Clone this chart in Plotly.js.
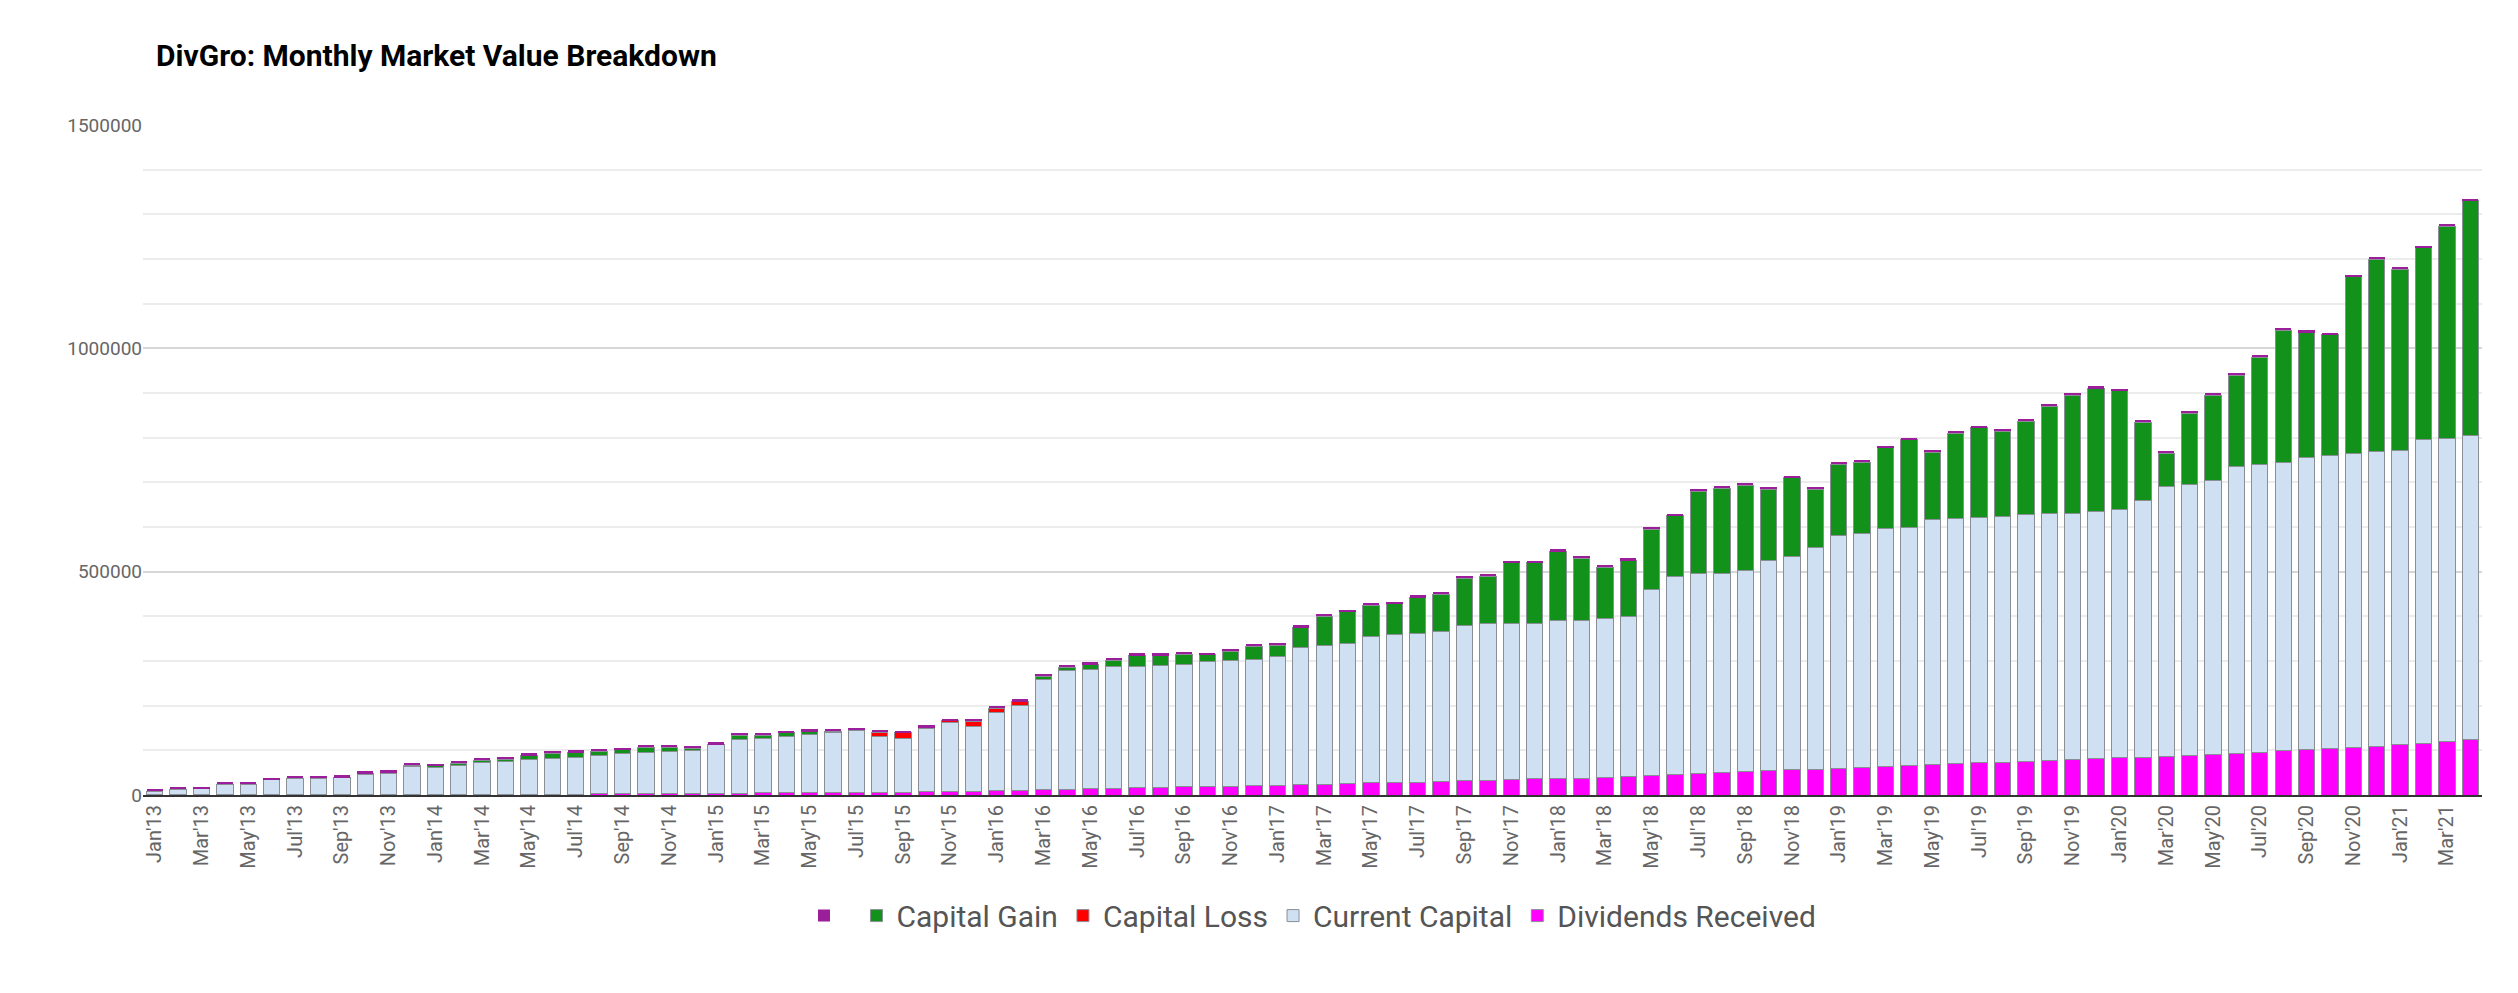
<!DOCTYPE html>
<html>
<head>
<meta charset="utf-8">
<script src="https://cdn.plot.ly/plotly-3.0.1.min.js"></script>
<style>html,body{margin:0;padding:0;background:#fff}#chart{width:2518px;height:993px}</style>
</head>
<body>
<div id="chart"></div>
<script>
// months Jan'13 .. Apr'21
const monthNames = ['Jan','Feb','Mar','Apr','May','Jun','Jul','Aug','Sep','Oct','Nov','Dec'];
const months = [];
for (let y = 13; y <= 21; y++) {
    for (let m = 0; m < 12; m++) {
        if (y === 21 && m > 3) break;
        months.push(monthNames[m] + "'" + y);
    }
}

// top of the light blue part (capital incl. dividends)
const capitalTop = [
    8000,13000,14000,24000,24000,34000,36000,36000,39000,46000,48000,63000,
    62000,66000,73000,76000,80000,82000,85000,88000,92000,95000,97000,100000,
    112000,125000,127000,132000,135000,140000,145000,132000,127000,148000,163000,153000,
    185000,200000,258000,278000,282000,287000,287000,290000,293000,298000,302000,303000,
    310000,330000,335000,340000,355000,360000,362000,365000,380000,385000,385000,385000,
    390000,390000,395000,400000,460000,490000,495000,497000,502000,525000,535000,555000,
    580000,585000,597000,600000,617000,620000,622000,624000,627000,630000,630000,635000,
    640000,660000,690000,695000,705000,735000,740000,745000,755000,760000,765000,768000,
    772000,795000,798000,805000
];
const dividends = [
    500,500,500,500,500,500,500,500,500,500,500,500,
    500,500,500,1000,1500,2000,2000,2500,2500,3000,3000,3500,
    3500,4000,4500,5000,5000,5500,6000,6500,6500,7000,7500,8000,
    9000,10000,12000,13000,14000,15000,16000,17000,18000,19000,20000,21000,
    22000,23000,24000,25000,27000,28000,29000,30000,32000,33000,34000,36000,
    37000,38000,40000,42000,44000,46000,48000,50000,52000,54000,56000,58000,
    60000,62000,64000,66000,68000,70000,72000,73000,75000,77000,79000,81000,
    83000,85000,87000,89000,91000,94000,96000,99000,101000,103000,106000,109000,
    112000,115000,119000,125000
];
const capitalGain = [
    0,0,0,0,0,0,2000,2000,0,2000,2000,4000,
    3000,5000,5000,4000,8000,12000,10000,10000,9000,12000,10000,5000,
    1000,9000,7000,7000,7000,3000,1000,0,0,0,0,0,
    0,0,8000,8000,10000,15000,25000,22000,22000,16000,20000,30000,
    25000,45000,65000,70000,70000,68000,80000,85000,105000,105000,135000,135000,
    155000,140000,115000,125000,135000,135000,185000,190000,192000,160000,175000,130000,
    160000,160000,180000,195000,150000,190000,200000,190000,210000,240000,265000,275000,
    265000,175000,75000,160000,190000,205000,240000,295000,280000,270000,395000,432000,
    405000,430000,475000,525000
];
const capitalLoss = [
    0,0,0,0,0,0,0,0,0,0,0,0,
    0,0,0,0,0,0,0,0,0,0,0,0,
    0,0,0,0,0,0,0,8000,12000,3000,3000,12000,
    9000,9000,0,0,0,0,0,0,0,0,0,0
].concat(new Array(52).fill(0));
const topCap = new Array(months.length).fill(5000);

const currentCapital = capitalTop.map((v, i) => v - dividends[i]);
const edge = { color: '#8a8f96', width: 1 };

const traces = [
    { name: 'Dividends Received', y: dividends, marker: { color: '#ff00ff', line: edge } },
    { name: 'Current Capital', y: currentCapital, marker: { color: '#cfe0f3', line: edge } },
    { name: 'Capital Loss', y: capitalLoss, marker: { color: '#ff0000', line: edge } },
    { name: 'Capital Gain', y: capitalGain, marker: { color: '#12921a', line: edge } },
    { name: ' ', y: topCap, marker: { color: '#9b1f9b', line: { width: 0 } } }
].map(t => Object.assign({ type: 'bar', x: months, hoverinfo: 'x+y+name' }, t));

const layout = {
    width: 2518, height: 993,
    barmode: 'stack', bargap: 0.3,
    paper_bgcolor: '#fff', plot_bgcolor: '#fff',
    font: { family: 'Roboto, sans-serif', color: '#555' },
    title: { text: '<b>DivGro: Monthly Market Value Breakdown</b>', x: 0.062, xanchor: 'left', y: 0.955,
             font: { size: 30, color: '#000', family: 'Roboto, sans-serif' } },
    margin: { l: 143, r: 36, t: 125, b: 198, autoexpand: false },
    xaxis: { tickangle: -90, tickfont: { size: 20, color: '#666' }, showgrid: false, automargin: false,
             showline: true, linecolor: '#333', linewidth: 2, ticks: '' },
    yaxis: { range: [0, 1500000], tickvals: [0, 500000, 1000000, 1500000], ticktext: ['0','500000','1000000','1500000'],
             tickfont: { size: 19, color: '#666' }, gridcolor: '#d6d6d6', gridwidth: 2, zeroline: false, automargin: false,
             minor: { dtick: 100000, showgrid: true, gridcolor: '#ececec', gridwidth: 2 } },
    legend: { orientation: 'h', x: 0.5, xanchor: 'center', y: -0.18, yanchor: 'middle', traceorder: 'reversed',
              font: { size: 30, color: '#555' }, itemwidth: 30 },
    showlegend: true
};

Plotly.newPlot('chart', traces, layout, { displayModeBar: false });
</script>
</body>
</html>
